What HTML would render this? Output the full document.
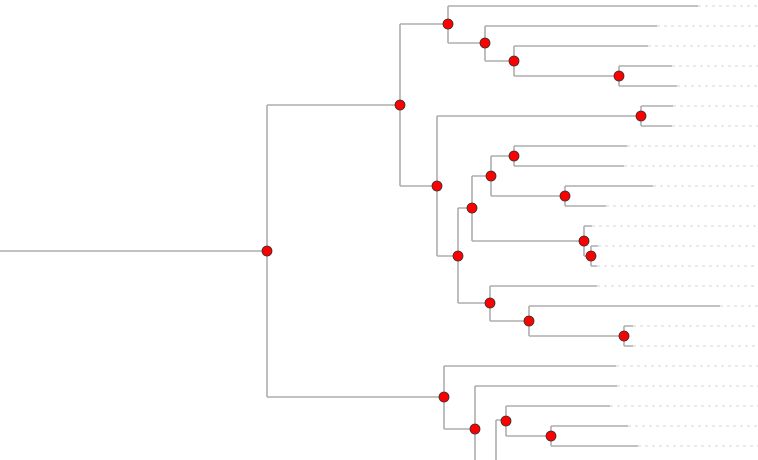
<!DOCTYPE html>
<html><head><meta charset="utf-8"><style>
html,body{margin:0;padding:0;background:#fff;}
svg{display:block;}
</style></head><body>
<svg width="758" height="460" viewBox="0 0 758 460" xmlns="http://www.w3.org/2000/svg">
<g stroke="#e2e2e2" stroke-width="1.5" stroke-dasharray="3,4" fill="none">
<path d="M698 6H758M657 26H758M648 46H758M672 66H758M677 86H758M673 106H758M672 126H758M627 146H758M624 166H758M653 186H758M606 206H758M592 226H758M598 246H758M597 266H758M597 286H758M720 306H758M633 326H758M633 346H758M616 366H758M617 386H758M610 406H758M628 426H758M638 446H758"/>
</g>
<g stroke="#adadad" stroke-width="1.6" fill="none">
<path d="M0 251H267M267 105V397"/>
<path d="M267 105H400M400 24V186"/>
<path d="M400 24H448M448 6V43M448 6H698M448 43H485"/>
<path d="M485 26V61M485 26H657M485 61H514"/>
<path d="M514 46V76M514 46H648M514 76H619"/>
<path d="M619 66V86M619 66H672M619 86H677"/>
<path d="M400 186H437M437 116V256M437 116H641"/>
<path d="M641 106V126M641 106H673M641 126H672"/>
<path d="M437 256H458M458 208V303M458 208H472M458 303H490"/>
<path d="M472 176V241M472 176H491M472 241H584"/>
<path d="M491 156V196M491 156H514M491 196H565"/>
<path d="M514 146V166M514 146H627M514 166H624"/>
<path d="M565 186V206M565 186H653M565 206H606"/>
<path d="M584 226V256M584 226H592M584 256H591"/>
<path d="M591 246V266M591 246H598M591 266H597"/>
<path d="M490 286V321M490 286H597M490 321H529"/>
<path d="M529 306V336M529 306H720M529 336H624"/>
<path d="M624 326V346M624 326H633M624 346H633"/>
<path d="M267 397H444M444 366V429M444 366H616M444 429H475"/>
<path d="M475 386V460M475 386H617"/>
<path d="M496 420V460M496 420H506"/>
<path d="M506 406V436M506 406H610M506 436H551"/>
<path d="M551 426V446M551 426H628M551 446H638"/>
</g>
<g fill="#ff0000" stroke="#333" stroke-width="0.8">
<circle cx="267" cy="251" r="5"/>
<circle cx="400" cy="105" r="5"/>
<circle cx="448" cy="24" r="5"/>
<circle cx="485" cy="43" r="5"/>
<circle cx="514" cy="61" r="5"/>
<circle cx="619" cy="76" r="5"/>
<circle cx="641" cy="116" r="5"/>
<circle cx="437" cy="186" r="5"/>
<circle cx="514" cy="156" r="5"/>
<circle cx="491" cy="176" r="5"/>
<circle cx="565" cy="196" r="5"/>
<circle cx="472" cy="208" r="5"/>
<circle cx="584" cy="241" r="5"/>
<circle cx="591" cy="256" r="5"/>
<circle cx="458" cy="256" r="5"/>
<circle cx="490" cy="303" r="5"/>
<circle cx="529" cy="321" r="5"/>
<circle cx="624" cy="336" r="5"/>
<circle cx="444" cy="397" r="5"/>
<circle cx="475" cy="429" r="5"/>
<circle cx="506" cy="421" r="5"/>
<circle cx="551" cy="436" r="5"/>
</g>
</svg>
</body></html>
